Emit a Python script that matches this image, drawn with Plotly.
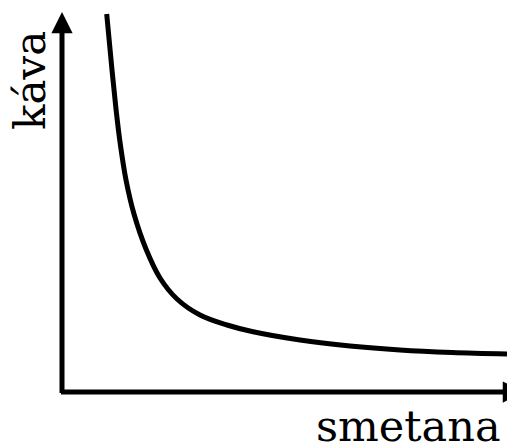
import plotly.graph_objects as go

# Indifference curve (x = smetana, y = káva), arbitrary units
smetana = [44.7, 50, 54, 58, 64, 72, 84, 98, 115, 138, 165, 190, 238, 288, 338, 390, 445]
kava    = [378, 322, 283, 250, 212, 178, 143, 114, 93, 77, 67, 60.5, 52, 46, 42, 39.5, 38]

x_label = "smetana"
y_label = "káva"

FONT = "DejaVu Serif"

fig = go.Figure()
fig.add_trace(go.Scatter(
    x=smetana, y=kava, mode="lines",
    line=dict(color="black", width=5, shape="spline", smoothing=1.0),
    hoverinfo="skip", showlegend=False, cliponaxis=False,
))

# axes with arrows
fig.add_annotation(x=0, y=380, ax=0, ay=-2.5, xref="x", yref="y", axref="x", ayref="y",
                   showarrow=True, arrowhead=2, arrowsize=0.85, arrowwidth=5, arrowcolor="black", text="")
fig.add_annotation(x=462, y=0, ax=-2.5, ay=0, xref="x", yref="y", axref="x", ayref="y",
                   showarrow=True, arrowhead=2, arrowsize=0.85, arrowwidth=5, arrowcolor="black", text="")

fig.add_annotation(x=346, y=-34, xref="x", yref="y", text=x_label, showarrow=False,
                   font=dict(family=FONT, size=43, color="black"), xanchor="center", yanchor="middle")
fig.add_annotation(x=-32, y=311, xref="x", yref="y", text=y_label, showarrow=False, textangle=-90,
                   font=dict(family=FONT, size=42, color="black"), xanchor="center", yanchor="middle")

fig.update_xaxes(range=[-62, 445], visible=False)
fig.update_yaxes(range=[-53, 392], visible=False)
fig.update_layout(
    width=507, height=445, margin=dict(l=0, r=0, t=0, b=0),
    paper_bgcolor="white", plot_bgcolor="white", showlegend=False,
)
fig.write_html("out.html", config={"displayModeBar": False},
               post_script="document.body.style.margin='0';")
